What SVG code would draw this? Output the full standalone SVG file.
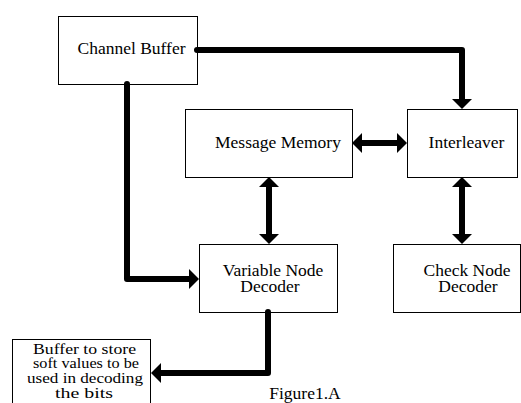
<svg xmlns="http://www.w3.org/2000/svg" width="521" height="403" viewBox="0 0 521 403">
<style>
.box{fill:#fff;stroke:#000;stroke-width:1}
.t{font-family:"Liberation Serif","Times New Roman",serif;font-size:17.5px;fill:#000;text-anchor:middle}
.s{font-size:15.5px}
.c{fill:none;stroke:#000;stroke-width:6;stroke-linecap:round;stroke-linejoin:round}
</style>
<defs>
<marker id="ah" markerUnits="userSpaceOnUse" viewBox="0 -11 11 22" markerWidth="11" markerHeight="22" refX="1" refY="0" orient="auto-start-reverse">
<path d="M0,-10 L10,0 L0,10 Z" fill="#000"/>
</marker>
</defs>
<rect width="521" height="403" fill="#fff"/>
<g id="channel-buffer"><rect class="box" x="58.5" y="16.5" width="139" height="68"/><text class="t" x="131.5" y="54">Channel Buffer</text></g>
<g id="message-memory"><rect class="box" x="185.5" y="109.5" width="167" height="68"/><text class="t" x="278" y="147.5">Message Memory</text></g>
<g id="interleaver"><rect class="box" x="407.5" y="109.5" width="110" height="68"/><text class="t" x="466.5" y="147.5">Interleaver</text></g>
<g id="variable-node-decoder"><rect class="box" x="199.5" y="244.5" width="138" height="68"/><text class="t" x="273" y="276">Variable Node</text><text class="t" x="270" y="292">Decoder</text></g>
<g id="check-node-decoder"><rect class="box" x="393.5" y="244.5" width="127" height="68"/><text class="t" x="467" y="276">Check Node</text><text class="t" x="468" y="292">Decoder</text></g>
<g id="soft-buffer"><rect class="box" x="12.5" y="339.5" width="138" height="80"/>
<text class="t s" x="84.5" y="353.5" textLength="103" lengthAdjust="spacingAndGlyphs">Buffer to store</text>
<text class="t s" x="86" y="368" textLength="106" lengthAdjust="spacingAndGlyphs">soft values to be</text>
<text class="t s" x="85" y="382.5" textLength="116" lengthAdjust="spacingAndGlyphs">used in decoding</text>
<text class="t s" x="84" y="397.5" textLength="58" lengthAdjust="spacingAndGlyphs">the bits</text></g>
<g id="caption"><text class="t" x="305" y="399">Figure1.A</text></g>
<g id="connectors">
<path class="c" d="M197,50 H462 V100" marker-end="url(#ah)"/>
<path class="c" d="M127,84 V279 H190" marker-end="url(#ah)"/>
<path class="c" d="M361,143 H398" marker-start="url(#ah)" marker-end="url(#ah)"/>
<path class="c" d="M269,186 V235" marker-start="url(#ah)" marker-end="url(#ah)"/>
<path class="c" d="M462,186 V235" marker-start="url(#ah)" marker-end="url(#ah)"/>
<path class="c" d="M268,312 V373 H160" marker-end="url(#ah)"/>
</g>
</svg>
